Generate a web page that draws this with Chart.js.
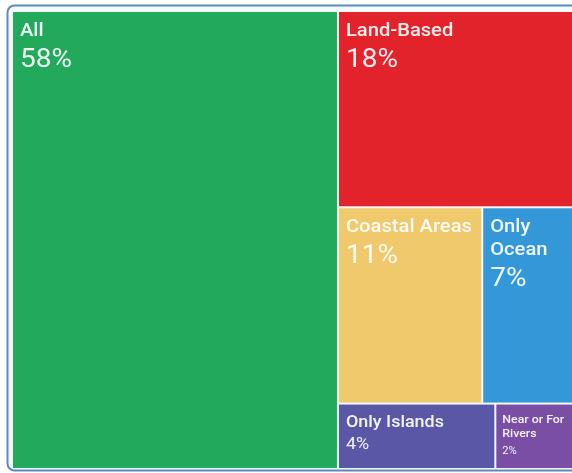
<!DOCTYPE html>
<html>
<head>
<meta charset="utf-8">
<script src="https://cdn.jsdelivr.net/npm/chart.js@4/dist/chart.umd.min.js"></script>
<style>
  html, body { margin: 0; padding: 0; background: #fff; overflow: hidden; }
  #wrap { position: absolute; left: 0; top: 0; width: 580px; height: 473px; }
</style>
</head>
<body>
<div id="wrap"><canvas id="tree" width="580" height="473"></canvas></div>
<script>
const categories = ['All', 'Land-Based', 'Coastal Areas', 'Only Ocean', 'Only Islands', 'Near or For Rivers'];
const shares = [58, 18, 11, 7, 4, 2];
const cellColors = ['#22a95b', '#e3232c', '#efc96c', '#3498d8', '#5a57a7', '#7a4ea4'];

const PHI = (1 + Math.sqrt(5)) / 2;
const TEXT_STRETCH = 1.12;

// squarified layout (same rule as d3.treemapSquarify, golden ratio)
function squarify(values, x0, y0, x1, y1) {
    const rects = [];
    const n = values.length;
    let value = values.reduce((a, b) => a + b, 0);
    let i0 = 0, i1 = 0;
    while (i0 < n) {
        const dx = x1 - x0, dy = y1 - y0;
        let sum = values[i1++];
        let minV = sum, maxV = sum;
        const alpha = Math.max(dy / dx, dx / dy) / (value * PHI);
        let beta = sum * sum * alpha;
        let minRatio = Math.max(maxV / beta, beta / minV);
        for (; i1 < n; ++i1) {
            const v = values[i1];
            sum += v;
            if (v < minV) minV = v;
            if (v > maxV) maxV = v;
            beta = sum * sum * alpha;
            const r = Math.max(maxV / beta, beta / minV);
            if (r > minRatio) { sum -= v; break; }
            minRatio = r;
        }
        const row = values.slice(i0, i1);
        if (dx < dy) {
            const h = dy * sum / value;
            let x = x0;
            row.forEach(v => {
                const w = dx * v / sum;
                rects.push({ x0: x, y0: y0, x1: x + w, y1: y0 + h });
                x += w;
            });
            y0 += h;
        } else {
            const w = dx * sum / value;
            let y = y0;
            row.forEach(v => {
                const h = dy * v / sum;
                rects.push({ x0: x0, y0: y, x1: x0 + w, y1: y + h });
                y += h;
            });
            x0 += w;
        }
        value -= sum;
        i0 = i1;
    }
    return rects;
}

function fontSizes(w, h) {
    const area = w * h;
    if (area > 15000) return [18, 25];
    if (area > 8000) return [16, 16];
    return [11, 10];
}

function wrapWords(ctx, text, maxW) {
    const words = text.split(' ');
    const lines = [];
    let line = '';
    words.forEach(word => {
        const test = line ? line + ' ' + word : word;
        if (line && ctx.measureText(test).width * TEXT_STRETCH > maxW) {
            lines.push(line);
            line = word;
        } else {
            line = test;
        }
    });
    if (line) lines.push(line);
    return lines;
}

function drawText(ctx, text, x, y) {
    ctx.save();
    ctx.translate(x, y);
    ctx.scale(TEXT_STRETCH, 1);
    ctx.fillText(text, 0, 0);
    ctx.restore();
}

const framePlugin = {
    id: 'frame',
    beforeDraw(chart) {
        const ctx = chart.ctx;
        const x = 7.5, y = 5.5, w = 580, h = 465, r = 7;
        ctx.save();
        ctx.beginPath();
        ctx.moveTo(x + r, y);
        ctx.lineTo(x + w - r, y);
        ctx.arcTo(x + w, y, x + w, y + r, r);
        ctx.lineTo(x + w, y + h - r);
        ctx.arcTo(x + w, y + h, x + w - r, y + h, r);
        ctx.lineTo(x + r, y + h);
        ctx.arcTo(x, y + h, x, y + h - r, r);
        ctx.lineTo(x, y + r);
        ctx.arcTo(x, y, x + r, y, r);
        ctx.closePath();
        ctx.fillStyle = '#f3f9fd';
        ctx.fill();
        ctx.lineWidth = 2;
        ctx.strokeStyle = '#5d89c0';
        ctx.stroke();
        ctx.restore();
    }
};

const treemapPlugin = {
    id: 'treemapCells',
    beforeDatasetsDraw(chart) {
        const ctx = chart.ctx;
        const area = chart.chartArea;
        const xs = chart.scales.x, ys = chart.scales.y;
        const ds = chart.data.datasets[0];
        const W = area.right - area.left, H = area.bottom - area.top;
        const rects = squarify(ds.tree, 0, 0, W, H);

        ctx.save();
        rects.forEach((r, i) => {
            const left = xs.getPixelForValue(r.x0 / W * 100) + 1;
            const right = xs.getPixelForValue(r.x1 / W * 100) - 1;
            const top = ys.getPixelForValue(r.y0 / H * 100) + 1;
            const bottom = ys.getPixelForValue(r.y1 / H * 100) - 1;
            const w = right - left, h = bottom - top;

            ctx.fillStyle = ds.backgroundColor[i];
            ctx.fillRect(left, top, w, h);

            const [ls, vs] = fontSizes(w, h);
            const pad = ls > 12 ? 7 : 6;
            ctx.fillStyle = 'rgba(255,255,255,0.93)';
            ctx.textAlign = 'left';
            ctx.textBaseline = 'top';
            ctx.font = '500 ' + ls + 'px Roboto, "Noto Sans", sans-serif';
            const lines = wrapWords(ctx, chart.data.labels[i], w - pad * 2);
            let ty = top + 10;
            lines.forEach(line => {
                drawText(ctx, line, left + pad, ty);
                ty += Math.round(ls * 1.3);
            });
            ty += vs > ls ? 3 : (ls < 12 ? 4 : 1);
            ctx.font = '400 ' + vs + 'px Roboto, "Noto Sans", sans-serif';
            drawText(ctx, ds.tree[i] + '%', left + pad, ty);
        });
        ctx.restore();
    }
};

new Chart(document.getElementById('tree').getContext('2d'), {
    type: 'scatter',
    data: {
        labels: categories,
        datasets: [{
            label: 'Share',
            data: [],
            tree: shares,
            backgroundColor: cellColors
        }]
    },
    options: {
        responsive: false,
        animation: false,
        layout: { padding: { left: 12, top: 11, right: 6, bottom: 4 } },
        scales: {
            x: { type: 'linear', min: 0, max: 100, display: false },
            y: { type: 'linear', min: 0, max: 100, reverse: true, display: false }
        },
        plugins: {
            legend: { display: false },
            tooltip: { enabled: false }
        }
    },
    plugins: [framePlugin, treemapPlugin]
});
</script>
</body>
</html>
